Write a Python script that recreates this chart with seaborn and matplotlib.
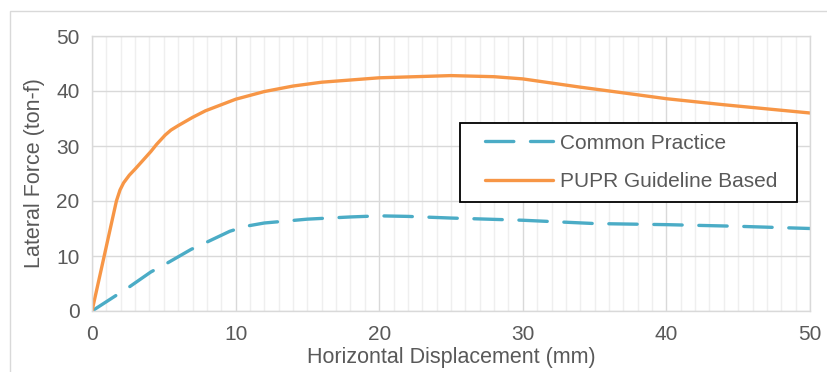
import pandas as pd
import matplotlib.pyplot as plt
import seaborn as sns
from matplotlib.ticker import MultipleLocator
from matplotlib.patches import Rectangle

# values
disp_pupr = [0, 0.85, 1.7, 1.95, 2.2, 2.6, 3, 4.1, 4.5, 5.1, 5.5, 6, 7, 7.9, 10, 12, 14, 16, 20, 25, 28, 30, 34, 36.6, 40, 44, 50]
force_pupr = [0, 10, 20, 22.0, 23.3, 24.7, 25.8, 29, 30.3, 32, 32.9, 33.7, 35.2, 36.4, 38.5, 39.9, 40.9, 41.6, 42.4, 42.8, 42.6, 42.2, 40.7, 39.8, 38.6, 37.5, 36.0]
disp_common = [0, 1.6, 2.5, 4.1, 5.1, 6.9, 7.9, 9.6, 10.7, 12, 15, 18, 20, 22, 25, 30, 35, 40, 45, 50]
force_common = [0, 2.7, 4.2, 7.1, 8.5, 11.2, 12.4, 14.5, 15.4, 16.0, 16.7, 17.1, 17.3, 17.2, 16.9, 16.5, 15.9, 15.7, 15.4, 15.0]
labels = ["Common Practice", "PUPR Guideline Based"]

df_common = pd.DataFrame({"x": disp_common, "y": force_common})
df_pupr = pd.DataFrame({"x": disp_pupr, "y": force_pupr})

sns.set_style("white")
plt.rcParams["font.family"] = ["Liberation Sans", "DejaVu Sans"]
txt = "#595959"

fig = plt.figure(figsize=(8.27, 3.72), dpi=100)
ax = fig.add_axes([92/827, 1-311/372, 718/827, 275/372])

sns.lineplot(data=df_common, x="x", y="y", ax=ax, color="#4BACC6", lw=2.4,
             label=labels[0], sort=False)
sns.lineplot(data=df_pupr, x="x", y="y", ax=ax, color="#F79646", lw=2.4,
             label=labels[1], sort=False)
ax.lines[0].set_dashes([8.5, 5.0])
ax.lines[0].set_dash_capstyle("round")
ax.lines[1].set_solid_joinstyle("round")

ax.set_xlim(0, 50)
ax.set_ylim(0, 50)
ax.xaxis.set_major_locator(MultipleLocator(10))
ax.xaxis.set_minor_locator(MultipleLocator(1))
ax.yaxis.set_major_locator(MultipleLocator(10))
ax.grid(which="major", color="#D9D9D9", lw=1.0)
ax.grid(which="minor", axis="x", color="#EFEFEF", lw=1.0)
ax.set_axisbelow(True)
for s in ax.spines.values():
    s.set_color("#D9D9D9")
    s.set_linewidth(1.0)
ax.tick_params(which="both", length=0, labelsize=15, labelcolor=txt)
ax.tick_params(axis="x", pad=10)
ax.tick_params(axis="y", pad=9)

ax.set_xlabel("Horizontal Displacement (mm)", fontsize=15.5, color=txt, labelpad=2)
ax.set_ylabel("Lateral Force (ton-f)", fontsize=15.5, color=txt, labelpad=8)

# legend box
ax.add_patch(Rectangle((0.5125, 0.396), 0.4695, 0.288, transform=ax.transAxes,
                       facecolor="white", edgecolor="black", lw=1.3, zorder=4))
leg = ax.legend(loc="center left", bbox_to_anchor=(0.5474, 0.54), fontsize=15,
                frameon=False, handlelength=3.27, handletextpad=0.34,
                borderpad=0, borderaxespad=0, labelspacing=0.95)
leg.set_zorder(5)
for t in leg.get_texts():
    t.set_color(txt)

# outer chart border
fig.patches.append(Rectangle((10/827, -0.1), 1.2, 1 - 11/372 + 0.1, transform=fig.transFigure,
                             fill=False, edgecolor="#D9D9D9", lw=1.0))

fig.savefig("out.png", dpi=100)
